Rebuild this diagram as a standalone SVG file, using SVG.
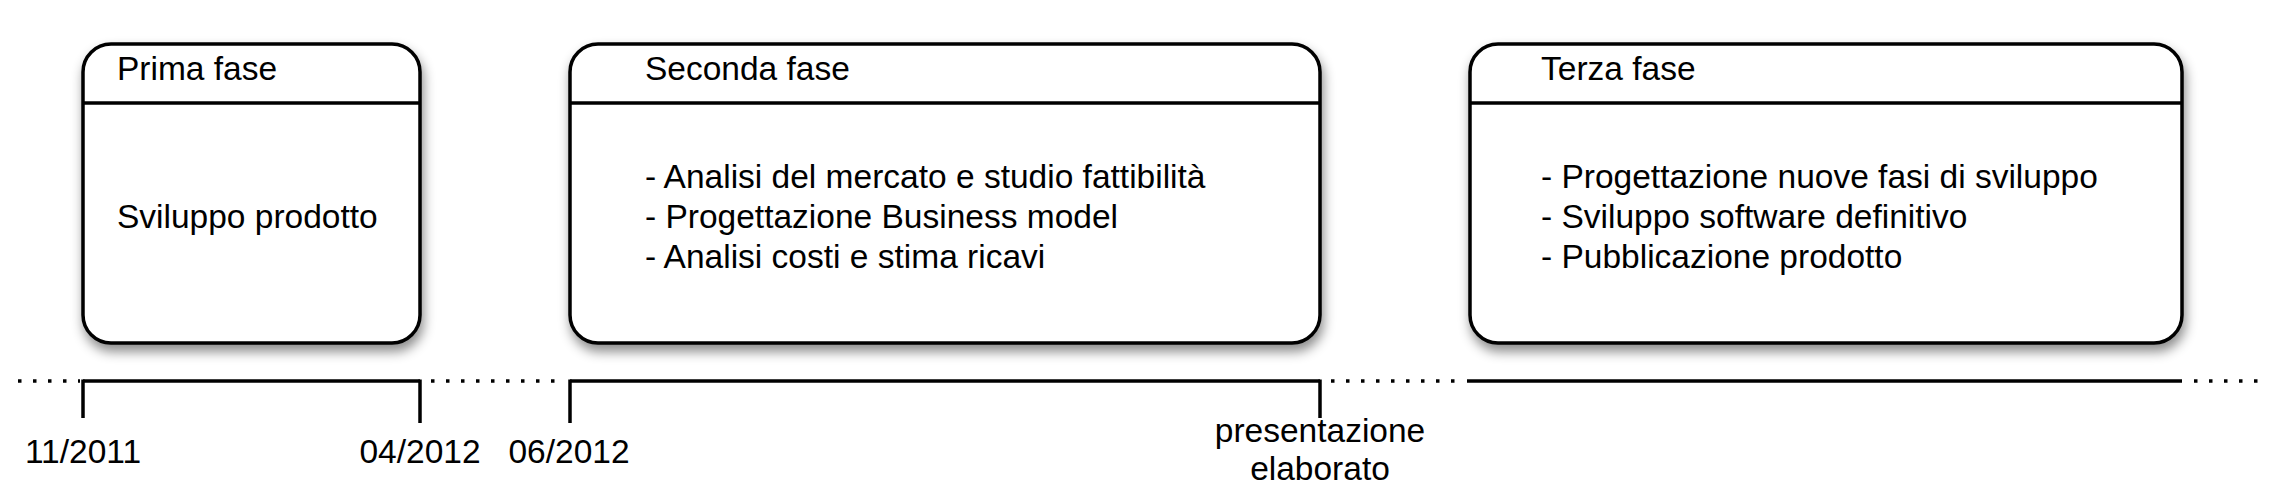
<svg xmlns="http://www.w3.org/2000/svg" width="2280" height="486" viewBox="0 0 2280 486">
<style>
.box{fill:#fff;stroke:#000;stroke-width:3.5}
.div{stroke:#000;stroke-width:3.5}
text{font-family:"Liberation Sans",Arial,sans-serif;font-size:33.5px;fill:#000}
.lbl{text-anchor:middle}
.solid{stroke:#000;stroke-width:3.5;fill:none}
.dot{stroke:#000;stroke-width:3.5;stroke-dasharray:3.5 11.5;fill:none}
.tick{stroke:#000;stroke-width:3.5}
</style>
<defs>
<filter id="sh" x="-10%" y="-10%" width="125%" height="130%">
<feDropShadow dx="2" dy="7" stdDeviation="6" flood-color="#000" flood-opacity="0.45"/>
</filter>
</defs>
<g id="prima">
<rect class="box" x="83" y="44" width="337" height="299" rx="28" filter="url(#sh)"/>
<line class="div" x1="83" y1="103" x2="420" y2="103"/>
<text x="117" y="80">Prima fase</text>
<text x="117" y="228">Sviluppo prodotto</text>
</g>
<g id="seconda">
<rect class="box" x="570" y="44" width="750" height="299" rx="28" filter="url(#sh)"/>
<line class="div" x1="570" y1="103" x2="1320" y2="103"/>
<text x="645" y="80">Seconda fase</text>
<text x="645" y="188">- Analisi del mercato e studio fattibilità</text>
<text x="645" y="228">- Progettazione Business model</text>
<text x="645" y="268">- Analisi costi e stima ricavi</text>
</g>
<g id="terza">
<rect class="box" x="1470" y="44" width="712" height="299" rx="28" filter="url(#sh)"/>
<line class="div" x1="1470" y1="103" x2="2182" y2="103"/>
<text x="1541" y="80">Terza fase</text>
<text x="1541" y="188">- Progettazione nuove fasi di sviluppo</text>
<text x="1541" y="228">- Sviluppo software definitivo</text>
<text x="1541" y="268">- Pubblicazione prodotto</text>
</g>
<g id="connectors">
<line class="dot" x1="18" y1="381" x2="80" y2="381"/>
<line class="solid" x1="83" y1="381" x2="420" y2="381"/>
<line class="dot" x1="431" y1="381" x2="565" y2="381"/>
<line class="solid" x1="570" y1="381" x2="1320" y2="381"/>
<line class="dot" x1="1331" y1="381" x2="1462" y2="381"/>
<line class="solid" x1="1467" y1="381" x2="2182" y2="381"/>
<line class="dot" x1="2194" y1="381" x2="2262" y2="381"/>
<line class="tick" x1="83" y1="379.5" x2="83" y2="418"/>
<line class="tick" x1="420" y1="379.5" x2="420" y2="423"/>
<line class="tick" x1="570" y1="379.5" x2="570" y2="423"/>
<line class="tick" x1="1320" y1="379.5" x2="1320" y2="418"/>
</g>
<g id="labels">
<text class="lbl" x="83" y="463">11/2011</text>
<text class="lbl" x="420" y="463">04/2012</text>
<text class="lbl" x="569" y="463">06/2012</text>
<text class="lbl" x="1320" y="442">presentazione</text>
<text class="lbl" x="1320" y="480">elaborato</text>
</g>
</svg>
